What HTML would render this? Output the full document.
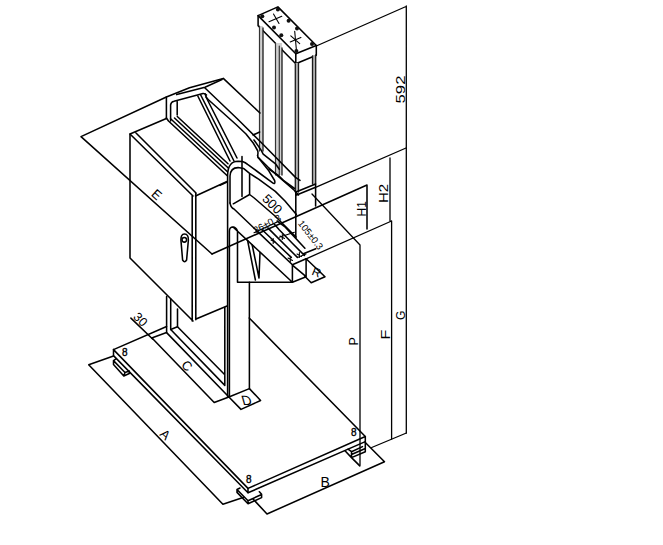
<!DOCTYPE html>
<html><head><meta charset="utf-8">
<style>
html,body{margin:0;padding:0;background:#fff;}
svg{display:block;}
text{font-family:"Liberation Sans",sans-serif;fill:#000;}
</style></head>
<body>
<svg width="663" height="545" viewBox="0 0 663 545">
<g fill="none" stroke="#000" stroke-width="1.55" stroke-linejoin="round" stroke-linecap="round">
<!-- ===== top cap ===== -->
<path d="M258.1,15.6 L277.9,6.9 L316.3,45.5 L295.8,53.7 Z"/>
<path d="M258.1,15.6 V25.7 L295.8,63.7 V53.7 M295.8,63.7 L316.3,55.3 V45.5"/>
<path d="M269,21.8 L281.8,16.2 M273.5,14 L279,23.5 M290.2,41.9 L300.9,37.4 M294.7,31.3 L296.4,50 M290.8,35.8 L299.7,43.6" stroke-width="1.1"/>
<!-- columns -->
<g stroke="none">
<rect x="259.5" y="26" width="3.4" height="125" fill="#d0d0d0"/>
<rect x="275.5" y="43" width="6.5" height="132" fill="#d0d0d0"/>
<rect x="295.3" y="63" width="3.2" height="129" fill="#b0b0b0"/>
<rect x="312.5" y="55" width="3.2" height="129" fill="#b0b0b0"/>
</g>
<path d="M259.5,26 V151 M275.5,43 V175 M279.3,46 V175" stroke="#333" stroke-width="1.2"/>
<path d="M263,28 V151 M282,48 V175 M295.3,64 V192 M298.5,63 V192 M312.5,56 V184 M315.7,55 V184" stroke="#1a1a1a" stroke-width="1.3"/>
<!-- column bases -->

<path d="M258.1,157.2 L268.2,167.3 L278.3,176.4 L294.5,190.5 L298.5,195"/>
<path d="M296,192 L315.6,184 M296,195.3 L315.6,187.3 M295.8,192 V238 M315.6,184 V206"/>
<!-- ===== extension/dims right ===== -->
<path d="M316.3,46 L406,6.5 M406.3,6 V433" stroke-width="1.3"/>
<path d="M315.6,187.3 L406,148 M390,158 V221 M306.1,258.8 L391.6,221 M391.6,221 V439" stroke-width="1.3"/>
<path d="M212,254 L367,185 M367,185 V229"/>
<path d="M312,194 L360,245 V465" stroke-width="1.3"/>
<!-- ===== big plane ===== -->
<path d="M166.4,97 L81,136.6 L212,254"/>
<!-- ===== electrical box ===== -->
<path d="M130,134 L166.4,118.5 M130,134 L193,196 M136,133 L196,193 M195.5,196 L227,181.5"/>
<path d="M130,134 V258 L193,321 M192.2,196 V321 M195.8,193.5 V319.7 M196,319 L227,306"/>
<path d="M181,241 Q180.5,234 184.5,234 Q188.8,234 188.3,241 L186.6,260 Q184.6,263.5 182.6,260 Z"/>
<circle cx="184.3" cy="239.8" r="2.3"/>
<!-- ===== hopper ===== -->
<path d="M166.4,118.5 V97 L189.5,87.7 L223.3,78.4 L260,113"/>
<path d="M176.7,94.6 L205,87.3 L222,79.5"/>
<path d="M170.6,121 V104.8 Q171,101.8 174,101.2 L203,93.6 Q205,93.4 206.5,95"/>
<path d="M177.2,115 V101.5"/>
<path d="M205,88 L237.5,119 L263.2,144.5 L295.5,177.4 L300,180.4"/>
<path d="M205,93.7 Q206,98 208.7,100 L236,124.5 L246,134 L253.2,143 L257.3,150 Q258.5,152 257.6,155.5"/>
<path d="M254,140 L261.1,150.1 L263.2,154.1 L275.8,164.2 L279.3,169.3 M269.2,169.3 L278.3,175.4 L283.4,180.4 L294.5,188.5"/>
<path d="M253,135 L259.7,132"/>
<path d="M177.3,116.5 L228,163.7 M174.5,118 L228,167.8 M170.6,118.8 L227.5,171.8 M166.4,118 L168.5,121 L227,175.5"/>
<path d="M197.8,96 L230,161 M200.7,95 L234,161 M206,97 L237,158"/>
<!-- ===== C arm ===== -->
<path d="M227.6,397 V175 Q228,161.2 238,161.2 L242.5,161.5 Q245.5,162.5 247.6,164.4 L257.3,171.5 L272,182.4 Q275.8,185.2 274.6,180.5 L268.8,170.8 L259,158.5 Q257.6,157.5 257.6,155.5"/>
<path d="M230,203 V176 Q230.5,167.6 238,167.6 L243.8,168.6 L249.6,173.4 L258.6,179.2 L275.3,191.4 L285,201 L296.4,214.5"/>
<path d="M230,203 Q231,208 234,209 L292.4,264.8"/>
<path d="M242,156.4 V196.4 M249.6,174 V194.5 M233.3,203.8 L249.6,194.5 L254.2,198 L275,216 L296,237"/>
<path d="M220,185.4 L227,182"/>
<!-- arm end block & gusset -->
<path d="M292.4,264.8 V282.2 L306.1,276.7 V258.8 Z M292.4,265.2 L306.1,276.7"/>
<path d="M229.4,397 V231 Q229.5,227 233,227 Q236,227 237.5,231 V282.2 H292.4 M233,227 L292.4,282.2"/>
<path d="M247.6,240.5 L255.4,280 M252.2,245 L259,278 L260,252.4"/>
<path d="M306.1,258.8 L325,276.7 L311.2,282.7 L304.8,276.2"/>
<path d="M303.4,253.8 L315.8,248.7 M262.1,229.7 L291.3,257.4 M268.1,228.1 L297.4,257.4 M274.2,224.1 L279.2,229.7 L292.3,243.3 L304.4,255.4 M277.2,221.1 L285.3,227.1 L304.9,248.3"/>
<path d="M254,232.7 L277.2,222.1 M279.2,237.2 L294.4,232.2 M297.4,257.4 L306,254 M271,240 L275.5,242.5 M273.2,238.5 V243.5 M280,236 L284.5,238.5 M282.3,234.5 V239.5 M288,258 L292.5,260.5 M290.3,256.5 V261.5 M297,254 L301.5,256.5 M299.4,252.5 V257.5" stroke-width="1.1"/>
<!-- lower arm verticals -->
<path d="M249.4,282.2 V388.6"/>
<!-- ===== legs / base ===== -->
<path d="M166.6,296.6 V332.6 L228.9,397 M170.7,299 V329.5 L224.8,385.4 V307.5 M177.5,309 V326.7 L224.8,374.7"/>
<path d="M152,338 L214.2,402.5 L228.9,397 L249.4,388.6 M228.9,397 L241,409.4 L260.6,400.5 L249.4,388.6"/>
<!-- base plate -->
<path d="M113.5,349.6 L166.6,326.5 M151.7,338 L166.6,332.6 M170.7,329.5 L177.5,326.7"/>
<path d="M113.5,349.6 V355.6 M113.5,349.6 L248,488.4 M113.5,355.6 L248,492.8 M248,488.4 V492.8"/>
<path d="M248,488.4 L365.3,436.5 M248,492.8 L365.3,441.6 M365.3,436.5 V441.6"/>
<path d="M249.2,318 L365.3,436.5"/>
<!-- feet -->
<path d="M116,358.8 L113.5,360.6 V364.6 L123.8,376 L129.3,373.5 V371.6 M113.5,360.6 L125,372.5 L129.3,371 M125,372.5 L123.8,376"/>
<path d="M240,488 L237,489.5 V492.4 L248,503.8 L261.6,497.6 V494.3 L259.4,491.7 M237,489.5 L248,500.7 L261.6,494.5 M248,500.7 V503.8"/>
<path d="M345,450.7 L351.5,457.6 L365.3,451.7 V441.6 M351.5,451.7 V457.6 M348,449.2 L351.5,451.7 L362.5,446.6 M351.5,454.5 L365.3,448.5 M351.5,457.6 L359.8,465.9"/>
<!-- dim lines -->
<path d="M88.7,364.8 L113.5,356 M88.7,364.8 L222.9,504.2 L243.8,497.3"/>
<path d="M252.8,498.7 L267,514 L384.5,461.7 L365.3,442.5"/>
<path d="M130.9,318.1 L152.6,339"/>
<path d="M371.7,447.5 L406.4,433" stroke-width="1.3"/>
</g>
<g fill="#111">
<circle cx="262.3" cy="16.2" r="2"/><circle cx="277.9" cy="9.5" r="2"/>
<circle cx="288.6" cy="20.7" r="2"/><circle cx="274" cy="27.4" r="2"/>
<circle cx="297" cy="28.5" r="2"/><circle cx="281.3" cy="35.2" r="2"/>
<circle cx="312" cy="44" r="2"/><circle cx="296.4" cy="50.9" r="2"/>
</g>
<g font-size="12">
<text transform="translate(404.8,103.5) rotate(-90) scale(1.4,1)">592</text>
<text transform="translate(388,203) rotate(-90) scale(1.25,1)">H2</text>
<text transform="translate(366,216.5) rotate(-90)">H1</text>
<text transform="translate(357.5,345.5) rotate(-90)" font-size="12.5">P</text>
<text transform="translate(390,339.5) rotate(-90) scale(1.35,1)">F</text>
<text transform="translate(405,320) rotate(-90)">G</text>
<text transform="translate(261.5,199.5) rotate(45)" font-size="13">500</text>
<text transform="translate(150.5,195) rotate(42)" font-size="13">E</text>
<text transform="translate(180.5,366) rotate(42)" font-size="13">C</text>
<text transform="translate(159,435) rotate(42)" font-size="13">A</text>
<text transform="translate(320.5,486.5)" font-size="14">B</text>
<text transform="translate(243,405) skewX(16)" font-size="13.5">D</text>
<text transform="translate(311,274.5) rotate(22)" font-size="12">R</text>
<text transform="translate(132.5,317.5) rotate(45)" font-size="12.5">30</text>
<text transform="translate(255.5,234) rotate(-28)" font-size="9.8">36±0.3</text>
<text transform="translate(297.5,223.5) rotate(52)" font-size="9.5">105±0.3</text>
<text x="122" y="356" font-size="10" style="stroke:#000;stroke-width:0.35px">8</text>
<text x="246" y="483" font-size="10" style="stroke:#000;stroke-width:0.35px">8</text>
<text x="351" y="436" font-size="10" style="stroke:#000;stroke-width:0.35px">8</text>
</g>
</svg>
</body></html>
